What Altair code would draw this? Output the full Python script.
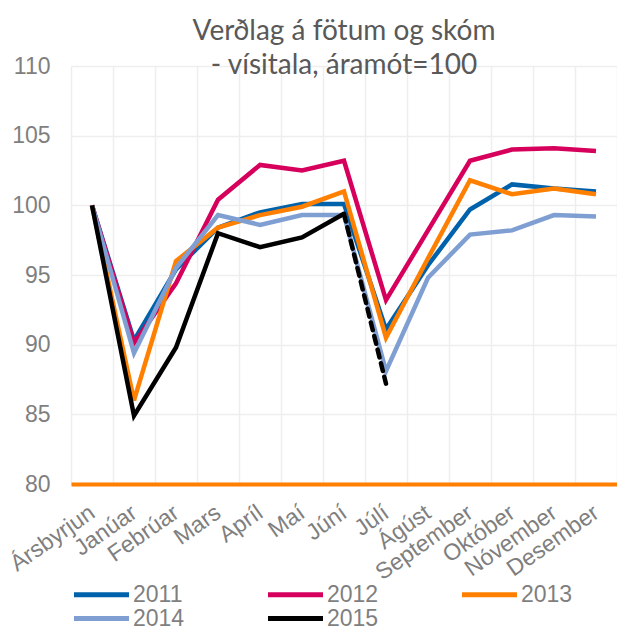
import altair as alt
import pandas as pd

months = ["Ársbyrjun", "Janúar", "Febrúar", "Mars", "Apríl", "Maí", "Júní",
          "Júlí", "Ágúst", "September", "Október", "Nóvember", "Desember"]
years = ["2011", "2012", "2013", "2014", "2015"]
colors = ["#0062ab", "#d6005c", "#ff7f00", "#7f9fd3", "#000000"]

v2011 = [100, 90.3, 95.4, 98.4, 99.5, 100.1, 100.1, 91.1, 95.7, 99.7, 101.5, 101.2, 101.0]
v2012 = [100, 90.1, 94.4, 100.4, 102.9, 102.5, 103.2, 93.2, 98.2, 103.2, 104.0, 104.1, 103.9]
v2013 = [100, 86.0, 96.0, 98.4, 99.3, 99.9, 101.0, 90.5, 96.2, 101.8, 100.8, 101.2, 100.8]
v2014 = [100, 89.4, 95.5, 99.3, 98.6, 99.3, 99.3, 88.1, 94.8, 97.9, 98.2, 99.3, 99.2]
v2015 = [100, 84.9, 89.8, 98.0, 97.0, 97.7, 99.4]
v2015_dashed = [99.4, 87.2]  # Júní -> Júlí

rows = []
for y, vals in zip(years, [v2011, v2012, v2013, v2014, v2015]):
    for m, v in zip(months, vals):
        rows.append({"month": m, "year": y, "value": v})
df = pd.DataFrame(rows)
df_dash = pd.DataFrame({"month": months[6:8], "year": "2015", "value": v2015_dashed})

label_color = "#7f7f7f"
grid_color = "#eeeeee"
lab_font = "Liberation Sans"

x_enc = alt.X("month:N", sort=months, title=None,
              axis=alt.Axis(labelAngle=-35, labelAlign="right", labelBaseline="middle",
                            labelPadding=26, labelFontSize=23, labelColor=label_color,
                            labelFont=lab_font, ticks=False, grid=True,
                            gridColor=grid_color, gridWidth=1.5, tickBand="extent",
                            domainColor="#ff7f00", domainWidth=4, labelOverlap=False))
y_enc = alt.Y("value:Q", title=None,
              scale=alt.Scale(domain=[80, 110], nice=False, zero=False),
              axis=alt.Axis(values=[80, 85, 90, 95, 100, 105, 110], domain=False, ticks=False,
                            labelPadding=21, labelFontSize=23, labelColor=label_color,
                            labelFont=lab_font, gridColor=grid_color, gridWidth=1.5))

lines = alt.Chart(df).mark_line(strokeWidth=4.5).encode(
    x=x_enc, y=y_enc,
    color=alt.Color("year:N", scale=alt.Scale(domain=years, range=colors),
                    legend=alt.Legend(title=None, orient="none", legendX=-3, legendY=517,
                                      direction="horizontal", columns=3, columnPadding=73,
                                      rowPadding=-4, symbolType="M-1,0L9,0", symbolSize=121,
                                      symbolStrokeWidth=5, labelFontSize=23,
                                      labelColor=label_color, labelFont=lab_font,
                                      labelOffset=42, padding=0)),
)

dashed = alt.Chart(df_dash).mark_line(strokeWidth=4.5, color="#000000",
                                      strokeDash=[8, 6], strokeCap="round").encode(
    x=alt.X("month:N", sort=months), y=alt.Y("value:Q"))

chart = alt.layer(lines, dashed).properties(
    width=546, height=418,
    autosize=alt.AutoSizeParams(type="none"),
    padding={"left": 63, "top": 58, "right": 0, "bottom": 143},
    title=alt.TitleParams(text=["Verðlag á fötum og skóm", "- vísitala, áramót=100"],
                          fontSize=28, font="Lato", fontWeight="normal", color="#595959",
                          anchor="middle", baseline="bottom", lineHeight=34, offset=-53),
).configure_view(stroke=None)

chart.save("out.html", embed_options={"renderer": "svg", "actions": False})
